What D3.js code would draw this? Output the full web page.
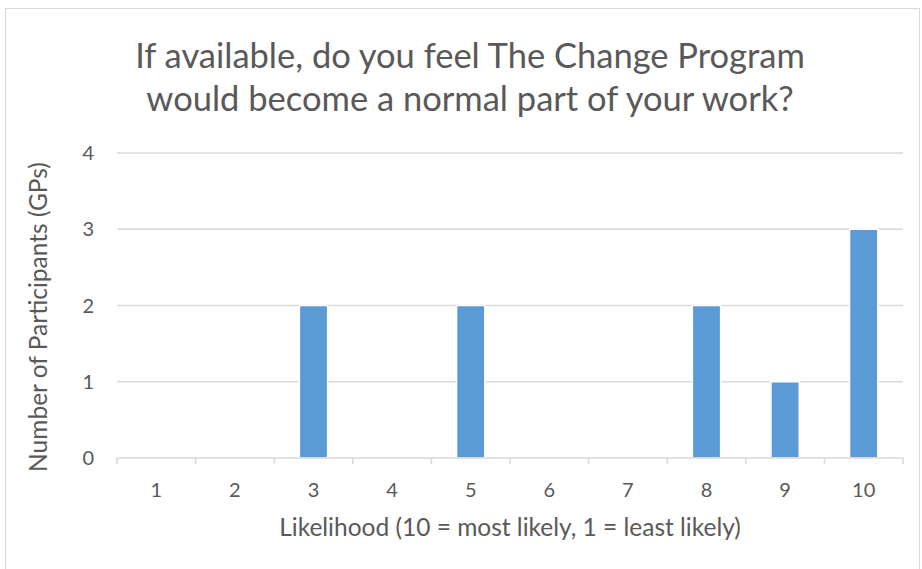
<!DOCTYPE html>
<html><head><meta charset="utf-8">
<script src="https://cdn.jsdelivr.net/npm/d3@7"></script>
<style>body{margin:0;background:#fff}text{font-family:Lato,"Open Sans",sans-serif}</style>
</head><body>
<svg id="c" width="922" height="569"></svg>
<script>
const categories = ["1","2","3","4","5","6","7","8","9","10"];
const values = [0,0,2,0,2,0,0,2,1,3];
const yTicks = [0,1,2,3,4];
const titleLines = ["If available, do you feel The Change Program","would become a normal part of your work?"];
const xTitle = "Likelihood (10 = most likely, 1 = least likely)";
const yTitle = "Number of Participants (GPs)";

const svg = d3.select("#c");
const W=922,H=569;
svg.append("rect").attr("width",W).attr("height",H).attr("fill","#fff");
svg.append("rect").attr("x",5.5).attr("y",8.5).attr("width",914).attr("height",620)
  .attr("fill","none").attr("stroke","#d9d9d9").attr("stroke-width",1);

const m={left:117,right:903,top:153,bottom:458};
const x=d3.scaleBand().domain(categories).range([m.left,m.right]).paddingInner(0.64).paddingOuter(0.32);
const y=d3.scaleLinear().domain([0,4]).range([m.bottom,m.top]);

// gridlines
svg.append("g").selectAll("line").data(yTicks.filter(d=>d>0)).join("line")
  .attr("x1",m.left).attr("x2",m.right).attr("y1",d=>y(d)).attr("y2",d=>y(d))
  .attr("stroke","#d9d9d9").attr("stroke-width",1.5);

// bars
const barData = values.map((v,i)=>({c:categories[i],v})).filter(d=>d.v>0);
svg.append("g").selectAll("rect").data(barData).join("rect")
  .attr("x",d=>x(d.c)).attr("width",x.bandwidth())
  .attr("y",d=>y(d.v)).attr("height",d=>y(0)-y(d.v))
  .attr("fill","#5b9bd5").attr("stroke","#fff").attr("stroke-width",1.5);

// x axis
const xl=d3.scaleLinear().domain([0,categories.length]).range([m.left,m.right]);
const ax=svg.append("g");
ax.append("line").attr("x1",m.left).attr("x2",m.right).attr("y1",y(0)).attr("y2",y(0))
  .attr("stroke","#d9d9d9").attr("stroke-width",1.5);
ax.selectAll("line.t").data(d3.range(categories.length+1)).join("line").attr("class","t")
  .attr("x1",d=>xl(d)).attr("x2",d=>xl(d)).attr("y1",y(0)).attr("y2",y(0)+6)
  .attr("stroke","#d9d9d9").attr("stroke-width",1.5);
ax.selectAll("text").data(categories).join("text")
  .attr("x",d=>x(d)+x.bandwidth()/2).attr("y",497).attr("text-anchor","middle")
  .attr("font-size",20).attr("fill","#595959").text(d=>d);

// y axis labels
svg.append("g").selectAll("text").data(yTicks).join("text")
  .attr("x",94).attr("y",d=>y(d)+7).attr("text-anchor","end")
  .attr("font-size",20).attr("fill","#595959").text(d=>d);

// titles
svg.append("g").selectAll("text").data(titleLines).join("text")
  .attr("x",470).attr("y",(d,i)=>68+i*43).attr("text-anchor","middle")
  .attr("font-size",34.5).attr("fill","#595959").text(d=>d);
svg.append("text").attr("x",510).attr("y",536).attr("text-anchor","middle")
  .attr("font-size",24.5).attr("fill","#595959").text(xTitle);
svg.append("text").attr("transform","translate(47,317) rotate(-90)").attr("text-anchor","middle")
  .attr("font-size",24.5).attr("fill","#595959").text(yTitle);
</script>
</body></html>
